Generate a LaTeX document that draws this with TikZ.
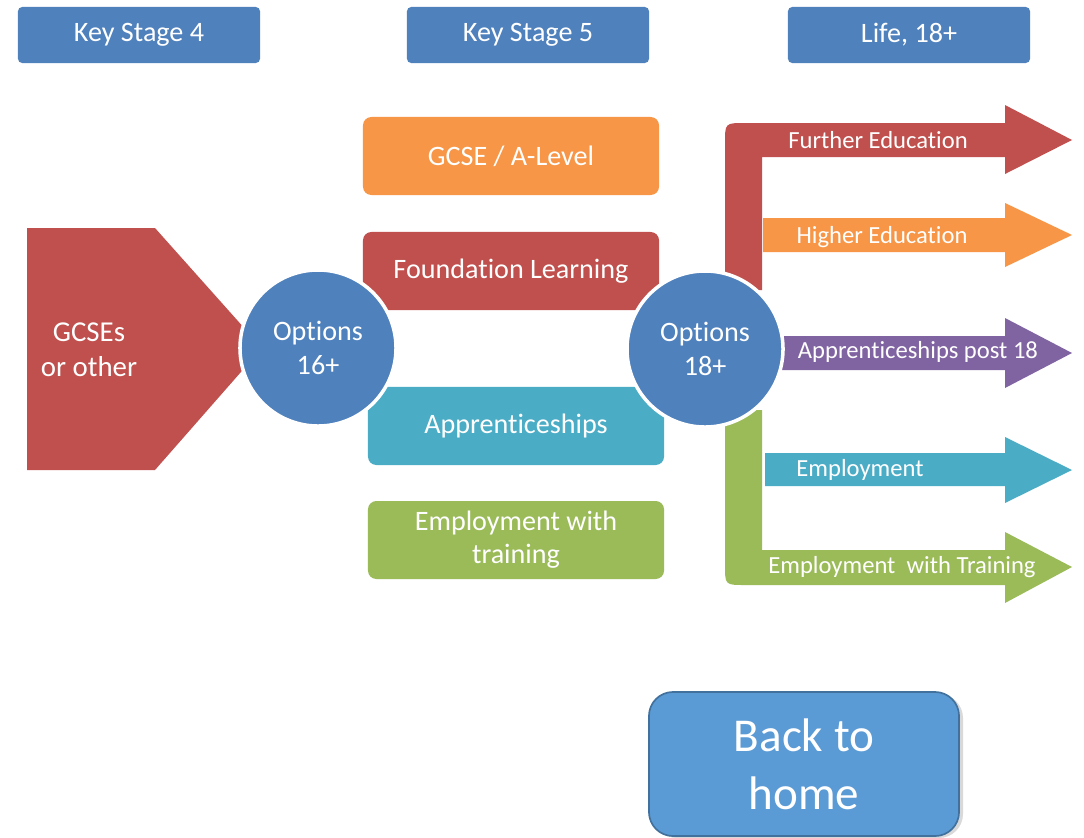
\documentclass[tikz,border=0pt]{standalone}
\usepackage{fontspec}
\setmainfont[Ligatures=NoCommon]{Carlito}
\usepackage{tikz}
\usetikzlibrary{positioning}
\definecolor{stage}{HTML}{4F81BD}
\definecolor{brick}{HTML}{C0504D}
\definecolor{peach}{HTML}{F79646}
\definecolor{aqua}{HTML}{4BACC6}
\definecolor{leaf}{HTML}{9BBB59}
\definecolor{plum}{HTML}{8064A2}
\definecolor{home}{HTML}{5B9BD5}
\definecolor{homeedge}{HTML}{41719C}
\tikzset{
  stagebox/.style={fill=stage, rounded corners=3pt, minimum width=6.05cm, minimum height=1.4cm,
    text=white, font=\fontsize{20}{24}\selectfont},
  route/.style={rounded corners=6pt, minimum width=7.4cm, minimum height=1.95cm,
    text=white, align=center, font=\fontsize{20}{23.5}\selectfont},
  hub/.style={circle, fill=stage, draw=white, line width=2.5pt, minimum size=3.9cm,
    text=white, align=center, font=\fontsize{20}{24}\selectfont},
  flow/.style={line join=miter},
  flowlab/.style={text=white, font=\fontsize{17.5}{20}\selectfont},
}
\begin{document}
\begin{tikzpicture}[x=0.025cm, y=-0.025cm]
  \useasboundingbox (0,0) rectangle (1084,837);
  % column headings
  \node[stagebox] (ks4) at (139,35) {Key Stage 4};
  \node[stagebox] (ks5) at (528,35) {Key Stage 5};
  \node[stagebox] (life) at (909,35) {Life, 18+};
  % key stage 5 routes
  \node[route, fill=peach] (alevel) at (511,156) {GCSE / A-Level};
  \node[route, fill=brick] (found) at (511,271) {Foundation Learning};
  \node[route, fill=aqua] (appr) at (516,426) {Apprenticeships};
  \node[route, fill=leaf] (empt) at (516,540) {Employment with\\training};
  % starting point
  \fill[brick] (27,228) -- (155,228) -- (262,348) -- (155,470) -- (27,470) -- cycle;
  \node[text=white, align=center, font=\fontsize{20.5}{25}\selectfont] (gcse) at (89,350) {GCSEs\\or other};
  % life 18+ arrows
  \fill[brick, flow] (762,290) -- (762,157) -- (1005,157) -- (1005,174) -- (1072,140) -- (1005,105)
    -- (1005,123) -- (745,123) .. controls (725,123) .. (725,143) -- (725,290) -- cycle;
  \fill[peach, flow] (763,218) -- (1005,218) -- (1005,203) -- (1072,235) -- (1005,267) -- (1005,252)
    -- (763,252) -- cycle;
  \fill[plum, flow] (770,336) -- (1005,336) -- (1005,318) -- (1072,353) -- (1005,388) -- (1005,370)
    -- (770,370) -- cycle;
  \fill[aqua, flow] (765,453) -- (1005,453) -- (1005,437) -- (1072,470) -- (1005,503) -- (1005,486)
    -- (765,486) -- cycle;
  \fill[leaf, flow] (725,410) -- (725,565) .. controls (725,585) .. (745,585) -- (1005,585) -- (1005,603)
    -- (1072,567) -- (1005,532) -- (1005,550) -- (762,550) -- (762,410) -- cycle;
  \node[flowlab] (fe) at (878,140) {Further Education};
  \node[flowlab] (he) at (882,237) {Higher Education};
  \node[flowlab] (ap18) at (918,352) {Apprenticeships post 18};
  \node[flowlab] (emp) at (860,470) {Employment};
  \node[flowlab] (ewt) at (902,567) {Employment\ \ with Training};
  % option hubs
  \node[hub] (opt16) at (318,348) {Options\\16+};
  \node[hub] (opt18) at (705,349) {Options\\18+};
  % back button
  \fill[black!15, rounded corners=0.6cm] (653,694) rectangle (963,838);
  \node[fill=home, draw=homeedge, line width=1.2pt, rounded corners=0.6cm, minimum width=7.75cm,
    minimum height=3.6cm, text=white, align=center, font=\fontsize{33.5}{41}\selectfont] (back) at (804,764) {Back to\\home};
\end{tikzpicture}
\end{document}
